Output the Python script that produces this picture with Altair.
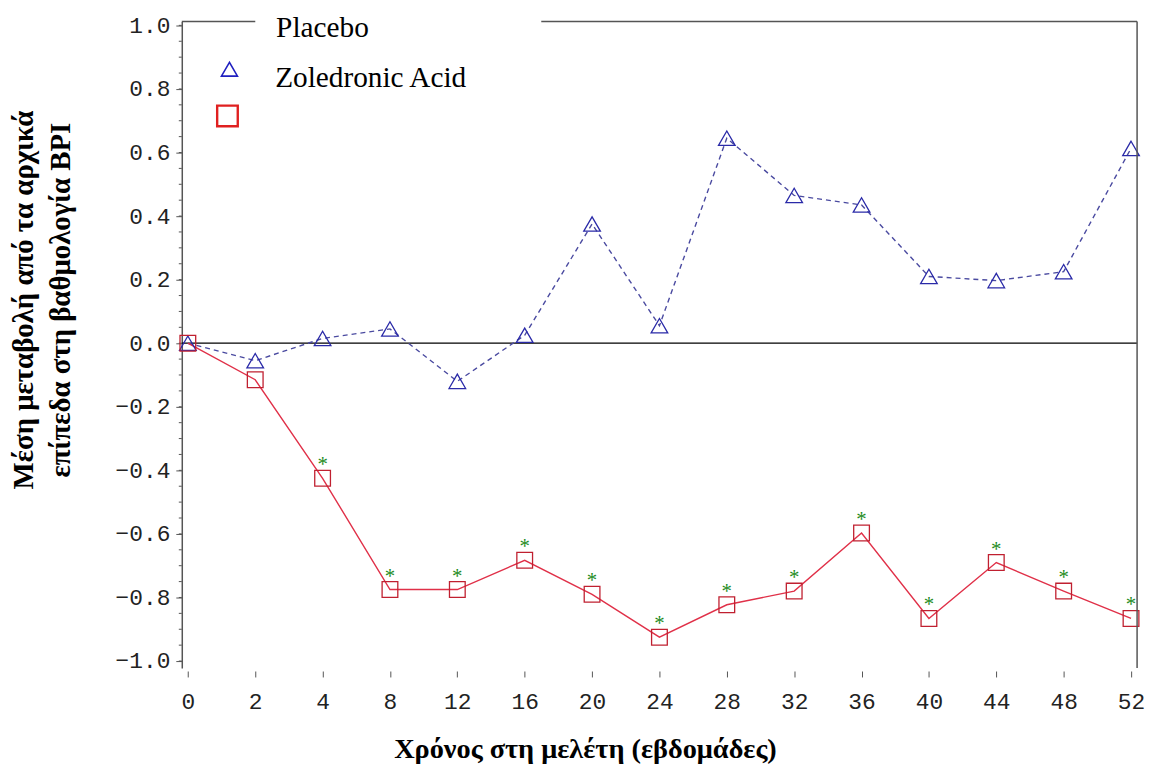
import altair as alt
import pandas as pd

# ---- data ----
weeks = ["0", "2", "4", "8", "12", "16", "20", "24", "28", "32", "36", "40", "44", "48", "52"]
placebo = [0.0, -0.055, 0.015, 0.045, -0.12, 0.025, 0.375, 0.055, 0.645, 0.465, 0.435, 0.21, 0.197, 0.225, 0.613]
zoledronic = [0.0, -0.115, -0.425, -0.775, -0.775, -0.683, -0.79, -0.925, -0.823, -0.78, -0.597, -0.866, -0.69, -0.78, -0.866]
signif = ["", "", "*", "*", "*", "*", "*", "*", "*", "*", "*", "*", "*", "*", "*"]
y_major = [-1.0, -0.8, -0.6, -0.4, -0.2, 0.0, 0.2, 0.4, 0.6, 0.8, 1.0]
y_minor = [-1.0, -0.95, -0.9, -0.85, -0.8, -0.75, -0.7, -0.65, -0.6, -0.55, -0.5, -0.45, -0.4,
           -0.35, -0.3, -0.25, -0.2, -0.15, -0.1, -0.05, 0.0, 0.05, 0.1, 0.15, 0.2, 0.25, 0.3,
           0.35, 0.4, 0.45, 0.5, 0.55, 0.6, 0.65, 0.7, 0.75, 0.8, 0.85, 0.9, 0.95, 1.0]
legend_labels = ["Placebo", "Zoledronic Acid"]
x_title = "Χρόνος στη μελέτη (εβδομάδες)"
y_title = ["Μέση μεταβολή από τα αρχικά", "επίπεδα στη βαθμολογία BPI"]

W, H = 962, 651

df = pd.DataFrame({"week": weeks, "placebo": placebo, "zol": zoledronic, "sig": signif})
minor_df = pd.DataFrame({"v": y_minor})
zero_df = pd.DataFrame({"v": [0.0]})
one = pd.DataFrame({"a": [0]})

yscale = alt.Scale(domain=[-1.022, 1.012], nice=False, zero=False)
xenc = alt.X(
    "week:O", sort=weeks,
    scale=alt.Scale(type="point", padding=0.09),
    axis=alt.Axis(
        title=x_title, labelAngle=0, domain=False, ticks=True, tickSize=6, offset=3,
        tickColor="#555", labelPadding=14, labelFont="Liberation Mono", labelFontSize=23,
        labelColor="#222", titleFont="Liberation Serif", titleFontWeight="bold",
        titleFontSize=28.5, titleColor="black", titleX=406, titleY=78,
        titleBaseline="middle", titleAlign="center", grid=False,
    ),
)

yaxis = alt.Axis(
    title=y_title, values=y_major, format=".1f", grid=False, domainColor="#555",
    domainWidth=1.5, tickColor="#555", tickSize=6, labelPadding=6,
    labelFont="Liberation Mono", labelFontSize=23, labelColor="#222",
    titleFont="Liberation Serif", titleFontWeight="bold", titleFontSize=29,
    titleColor="black", titleAngle=270, titleAlign="center", titleBaseline="top",
    titleX=-173, titleY=280, titleLineHeight=37,
)

zero_line = alt.Chart(zero_df).mark_rule(color="black", strokeWidth=1.2).encode(
    y=alt.Y("v:Q", scale=yscale, axis=yaxis)
)

minor = alt.Chart(minor_df).mark_rule(color="#555", strokeWidth=1).encode(
    y=alt.Y("v:Q", scale=yscale), x=alt.value(-3), x2=alt.value(0)
)

base = alt.Chart(df).encode(x=xenc)

pl_line = base.mark_line(color="#4a4aa0", strokeDash=[5, 4], strokeWidth=1.4).encode(
    y=alt.Y("placebo:Q", scale=yscale)
)
pl_pts = base.mark_point(shape="triangle-up", size=280, filled=False, color="#2a2aa8",
                         strokeWidth=1.3, opacity=1).encode(y=alt.Y("placebo:Q", scale=yscale))

zo_line = base.mark_line(color="#e03048", strokeWidth=1.4).encode(
    y=alt.Y("zol:Q", scale=yscale)
)
zo_pts = base.mark_point(shape="square", size=250, filled=False, color="#c02030",
                         strokeWidth=1.3, opacity=1).encode(y=alt.Y("zol:Q", scale=yscale))
stars = base.mark_text(color="#228b22", fontSize=21, dy=-13, font="Liberation Serif").encode(
    y=alt.Y("zol:Q", scale=yscale), text="sig:N"
)

# frame pieces (top border broken by legend, right border)
top1 = alt.Chart(one).mark_rule(color="#555", strokeWidth=1.5).encode(
    x=alt.value(0), x2=alt.value(74), y=alt.value(0))
top2 = alt.Chart(one).mark_rule(color="#555", strokeWidth=1.5).encode(
    x=alt.value(362), x2=alt.value(W), y=alt.value(0))
right = alt.Chart(one).mark_rule(color="#555", strokeWidth=1.5).encode(
    x=alt.value(W), y=alt.value(0), y2=alt.value(H))

# legend (as drawn in the reference)
leg_df = pd.DataFrame({"label": legend_labels})
leg_t1 = alt.Chart(leg_df.iloc[[0]]).mark_text(
    align="left", baseline="middle", font="Liberation Serif", fontSize=29.5, color="black"
).encode(text="label:N", x=alt.value(95), y=alt.value(7))
leg_t2 = alt.Chart(leg_df.iloc[[1]]).mark_text(
    align="left", baseline="middle", font="Liberation Serif", fontSize=29.5, color="black"
).encode(text="label:N", x=alt.value(94), y=alt.value(57))
leg_tri = alt.Chart(one).mark_point(shape="triangle-up", size=260, filled=False, color="#2020c0",
                                    strokeWidth=1.6, opacity=1).encode(
    x=alt.value(48), y=alt.value(48))
leg_sq = alt.Chart(one).mark_point(shape="square", size=430, filled=False, color="#e02020",
                                   strokeWidth=2.4, opacity=1).encode(
    x=alt.value(46), y=alt.value(95))

chart = alt.layer(
    zero_line, minor, pl_line, zo_line, pl_pts, zo_pts, stars,
    top1, top2, right, leg_t1, leg_t2, leg_tri, leg_sq,
).properties(
    width=W, height=H,
    padding={"left": 175, "top": 11, "right": 13, "bottom": 96},
    autosize=alt.AutoSizeParams(type="none"),
    background="white",
).configure_view(stroke=None)

chart.save("out.html", embed_options={"renderer": "svg", "actions": False})
